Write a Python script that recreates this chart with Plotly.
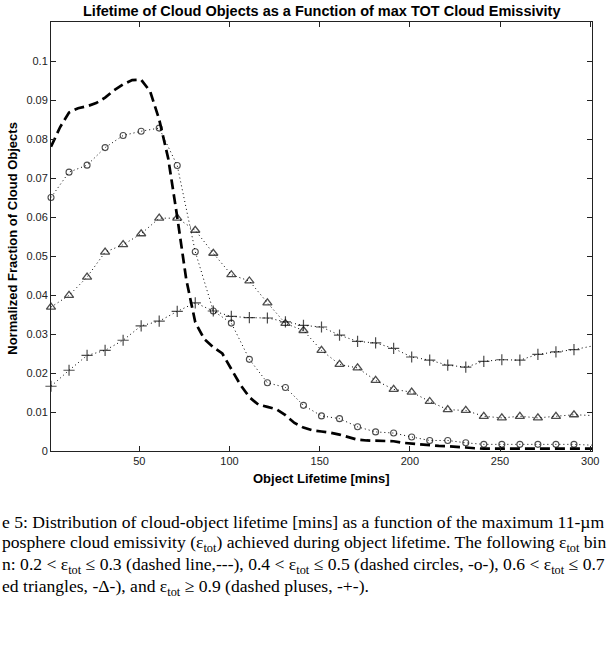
import plotly.graph_objects as go

# ---------------- data ----------------
x_mark = [1, 11, 21, 31, 41, 51, 61, 71, 81, 91, 101, 111, 121, 131, 141, 151,
          161, 171, 181, 191, 201, 211, 221, 231, 241, 251, 261, 271, 281, 291]
x_end = 301

circ_vals = [0.0650, 0.0715, 0.0733, 0.0778, 0.0809, 0.0820, 0.0828, 0.0732, 0.0511, 0.0359,
             0.0328, 0.0235, 0.0175, 0.0163, 0.0117, 0.0090, 0.0083, 0.0062, 0.0049, 0.0046,
             0.0036, 0.0027, 0.0027, 0.0021, 0.0017, 0.0017, 0.0017, 0.0017, 0.0017, 0.0017]
circ_end = 0.0015

tri_vals = [0.0369, 0.0399, 0.0446, 0.0510, 0.0529, 0.0557, 0.0597, 0.0597, 0.0566, 0.0507,
            0.0452, 0.0436, 0.0380, 0.0327, 0.0309, 0.0258, 0.0222, 0.0213, 0.0181, 0.0158,
            0.0151, 0.0127, 0.0106, 0.0104, 0.0089, 0.0085, 0.0089, 0.0085, 0.0089, 0.0093]
tri_end = 0.0091

plus_vals = [0.0166, 0.0207, 0.0245, 0.0258, 0.0284, 0.0321, 0.0333, 0.0358, 0.0380, 0.0359,
             0.0345, 0.0342, 0.0341, 0.0331, 0.0322, 0.0318, 0.0297, 0.0281, 0.0277, 0.0263,
             0.0241, 0.0233, 0.0220, 0.0215, 0.0230, 0.0234, 0.0233, 0.0248, 0.0254, 0.0260]
plus_end = 0.0269

x_dash = [1, 6, 11, 16, 21, 26, 31, 36, 41, 46, 51, 56, 61, 66, 71, 76, 81, 86, 91, 96,
          101, 106, 111, 116, 121, 126, 131, 136, 141, 146, 151, 156, 161, 166, 171, 176,
          181, 186, 191, 196, 201, 206, 211, 216, 221, 226, 231, 236, 241, 251, 261, 271,
          281, 291, 301]
dash_vals = [0.0780, 0.0830, 0.0868, 0.0879, 0.0884, 0.0892, 0.0906, 0.0925, 0.0940, 0.0951,
             0.0952, 0.0922, 0.0850, 0.0750, 0.0600, 0.0440, 0.0330, 0.0287, 0.0266, 0.0250,
             0.0210, 0.0170, 0.0138, 0.0119, 0.0113, 0.0107, 0.0092, 0.0072, 0.0060, 0.0053,
             0.0050, 0.0047, 0.0042, 0.0036, 0.0029, 0.0027, 0.0026, 0.0026, 0.0025, 0.0021,
             0.0019, 0.0016, 0.0015, 0.0013, 0.0012, 0.0011, 0.0009, 0.0007, 0.0006, 0.0006,
             0.0006, 0.0006, 0.0006, 0.0006, 0.0006]

x_tick_vals = [50, 100, 150, 200, 250, 300]
x_tick_text = ["50", "100", "150", "200", "250", "300"]
y_tick_vals = [0, 0.01, 0.02, 0.03, 0.04, 0.05, 0.06, 0.07, 0.08, 0.09, 0.1]
y_tick_text = ["0", "0.01", "0.02", "0.03", "0.04", "0.05", "0.06", "0.07", "0.08", "0.09", "0.1"]

title_text = "Lifetime of Cloud Objects as a Function of max TOT Cloud Emissivity"
x_title = "Object Lifetime [mins]"
y_title = "Normalized Fraction of Cloud Objects"
caption_lines = [
    "e 5: Distribution of cloud-object lifetime [mins] as a function of the maximum 11-µm",
    "posphere cloud emissivity (ε<sub>tot</sub>) achieved during object lifetime. The following ε<sub>tot</sub> bin",
    "n: 0.2 &lt; ε<sub>tot</sub> ≤ 0.3 (dashed line,---), 0.4 &lt; ε<sub>tot</sub> ≤ 0.5 (dashed circles, -o-), 0.6 &lt; ε<sub>tot</sub> ≤ 0.7",
    "ed triangles, -Δ-), and ε<sub>tot</sub> ≥ 0.9 (dashed pluses, -+-).",
]

# ---------------- figure ----------------
W, H = 611, 654
L, R, T, B = 51, 16, 22, 203
PW, PH = W - L - R, H - T - B

def px2paper_x(px):
    return (px - L) / PW

def py2paper_y(py):
    return (H - B - py) / PH

fig = go.Figure()

dot_line = dict(color="black", width=1, dash="1px,3px")

def dotted_series(vals, end, symbol, size, lw):
    xs = x_mark + [x_end]
    ys = vals + [end]
    sizes = [size] * len(x_mark) + [0]
    fig.add_trace(go.Scatter(
        x=xs, y=ys, mode="lines+markers", line=dot_line,
        marker=dict(symbol=symbol, size=sizes, color="black",
                    line=dict(color="black", width=lw)),
        cliponaxis=False, showlegend=False, hoverinfo="skip"))

fig.add_trace(go.Scatter(
    x=x_dash, y=dash_vals, mode="lines",
    line=dict(color="black", width=2.7, dash="10px,5px"),
    showlegend=False, hoverinfo="skip"))

dotted_series(circ_vals, circ_end, "circle-open", 6, 1.1)
dotted_series(tri_vals, tri_end, "triangle-up-open", 8, 1.3)
dotted_series(plus_vals, plus_end, "cross-thin-open", 8, 1.2)

axis_common = dict(
    showgrid=False, zeroline=False, showline=True, linecolor="#222", linewidth=1,
    mirror="ticks", ticks="inside", ticklen=5, tickwidth=1, tickcolor="#222",
    tickfont=dict(family="Liberation Sans, Arial, sans-serif", size=11, color="#222"),
)

fig.update_xaxes(range=[1, 301], tickvals=x_tick_vals, ticktext=x_tick_text, **axis_common)
fig.update_yaxes(range=[0, 0.11], tickvals=y_tick_vals, ticktext=y_tick_text, **axis_common)

sans_bold = dict(family="Liberation Sans, Arial, sans-serif", color="black")

annotations = [
    dict(text="<b>" + title_text + "</b>", x=0.5, y=py2paper_y(11), xref="paper", yref="paper",
         xanchor="center", yanchor="middle", showarrow=False, font=dict(size=14.5, **sans_bold)),
    dict(text="<b>" + x_title + "</b>", x=0.5, y=py2paper_y(478), xref="paper", yref="paper",
         xanchor="center", yanchor="middle", showarrow=False, font=dict(size=13, **sans_bold)),
    dict(text="<b>" + y_title + "</b>", x=px2paper_x(12), y=py2paper_y(238.5), xref="paper",
         yref="paper", xanchor="center", yanchor="middle", textangle=-90, showarrow=False,
         font=dict(size=13, **sans_bold)),
]
for i, line in enumerate(caption_lines):
    annotations.append(dict(
        text=line, x=px2paper_x(0), y=py2paper_y(522 + 21.8 * i), xref="paper", yref="paper",
        xanchor="left", yanchor="middle", showarrow=False, align="left",
        font=dict(family="Liberation Serif, Times New Roman, serif", size=17.6, color="black")))

fig.update_layout(
    width=W, height=H, margin=dict(l=L, r=R, t=T, b=B, pad=0),
    paper_bgcolor="white", plot_bgcolor="white",
    annotations=annotations,
)

fig.write_html("out.html")
